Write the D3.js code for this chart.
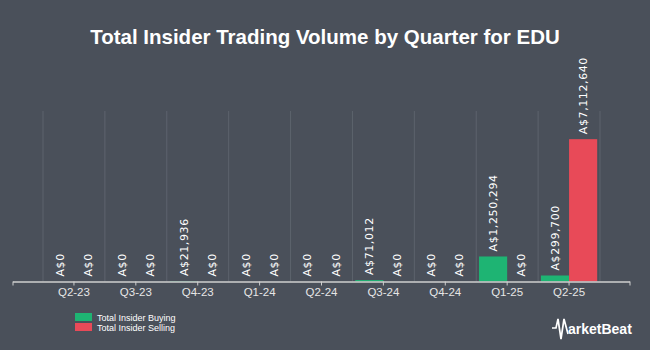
<!DOCTYPE html>
<html><head><meta charset="utf-8">
<script src="https://cdn.jsdelivr.net/npm/d3@7"></script>
<style>html,body{margin:0;padding:0;background:#4a505a;}svg{display:block;}</style>
</head><body>
<svg id="c" width="650" height="350"></svg>
<script>
const quarters = ["Q2-23","Q3-23","Q4-23","Q1-24","Q2-24","Q3-24","Q4-24","Q1-25","Q2-25"];
const buying = [0,0,21936,0,0,71012,0,1250294,299700];
const selling = [0,0,0,0,0,0,0,0,7112640];
const seriesNames = ["Total Insider Buying","Total Insider Selling"];
const colors = ["#1eb473","#e84a58"];

const svg = d3.select("#c");
const W=650,H=350;
svg.append("rect").attr("width",W).attr("height",H).attr("fill","#4a505a");

svg.append("text").attr("x",325).attr("y",44).attr("text-anchor","middle")
  .attr("font-family","Liberation Sans, Arial, sans-serif").attr("font-weight","bold")
  .attr("font-size",20.5).attr("fill","#ffffff").text("Total Insider Trading Volume by Quarter for EDU");

const x0=43,x1=600,yBase=281.5,yTop=111;
const x = d3.scaleBand().domain(quarters).range([x0,x1]).paddingInner(0).paddingOuter(0);
const xs = d3.scaleBand().domain([0,1]).range([0,x.bandwidth()]).paddingInner(0).paddingOuter(0.1);
const y = d3.scaleLinear().domain([0,8520000]).range([yBase,yTop]);

// gridlines at category boundaries
const bounds = quarters.map(q=>x(q)).concat([x1]);
svg.append("g").selectAll("line").data(bounds).join("line")
  .attr("x1",d=>d).attr("x2",d=>d).attr("y1",yTop).attr("y2",yBase)
  .attr("stroke","#5d636d").attr("stroke-width",1);

const data = quarters.map((q,i)=>({q,vals:[buying[i],selling[i]]}));
const fmt = v=>"A$"+d3.format(",")(v);
const g = svg.append("g");
data.forEach(d=>{
  d.vals.forEach((v,k)=>{
    const bx = x(d.q)+xs(k), bw = xs.bandwidth();
    if(v>0){
      g.append("rect").attr("x",bx).attr("width",bw).attr("y",y(v)).attr("height",yBase-y(v)).attr("fill",colors[k]);
    }
    const cx = bx+bw/2, ty = y(v)-5;
    g.append("text").attr("transform",`translate(${cx+4},${ty}) rotate(-90)`)
      .attr("font-family","DejaVu Sans, sans-serif").attr("font-size",11).attr("fill","#ffffff")
      .attr("letter-spacing","0.6").text(fmt(v));
  });
});

// axis
const ax = svg.append("g");
ax.append("line").attr("x1",13).attr("x2",630).attr("y1",yBase+0.5).attr("y2",yBase+0.5).attr("stroke","#cfcfcf").attr("stroke-width",1.5);
const tickXs=[13].concat(quarters.map(q=>x(q)+x.bandwidth()/2)).concat([630]);
ax.selectAll("line.t").data(tickXs).join("line").attr("class","t")
  .attr("x1",d=>d).attr("x2",d=>d).attr("y1",yBase).attr("y2",yBase+4).attr("stroke","#cfcfcf");
ax.selectAll("text").data(quarters).join("text")
  .attr("x",q=>x(q)+x.bandwidth()/2).attr("y",296).attr("text-anchor","middle")
  .attr("font-family","Liberation Sans, Arial, sans-serif").attr("font-size",11.5).attr("fill","#e6e6e6").text(q=>q);

// legend
const lg = svg.append("g");
seriesNames.forEach((n,i)=>{
  lg.append("rect").attr("x",75).attr("y",313+i*10).attr("width",17).attr("height",8).attr("fill",colors[i]);
  lg.append("text").attr("x",97).attr("y",320.5+i*10).attr("font-family","Liberation Sans, Arial, sans-serif")
    .attr("font-size",9).attr("fill","#ffffff").text(n);
});

// logo
const lgx=552, lgy=334;
svg.append("path").attr("d",`M${lgx},${lgy-6} L${lgx+4},${lgy-6} L${lgx+6},${lgy-15} L${lgx+9},${lgy+5} L${lgx+12},${lgy-15} L${lgx+16},${lgy}`)
  .attr("fill","none").attr("stroke","#ffffff").attr("stroke-width",1.7);
svg.append("text").attr("x",lgx+16).attr("y",lgy).attr("font-family","Liberation Sans, Arial, sans-serif")
  .attr("font-weight","bold").attr("font-size",14).attr("fill","#ffffff").text("arketBeat");
</script>
</body></html>
